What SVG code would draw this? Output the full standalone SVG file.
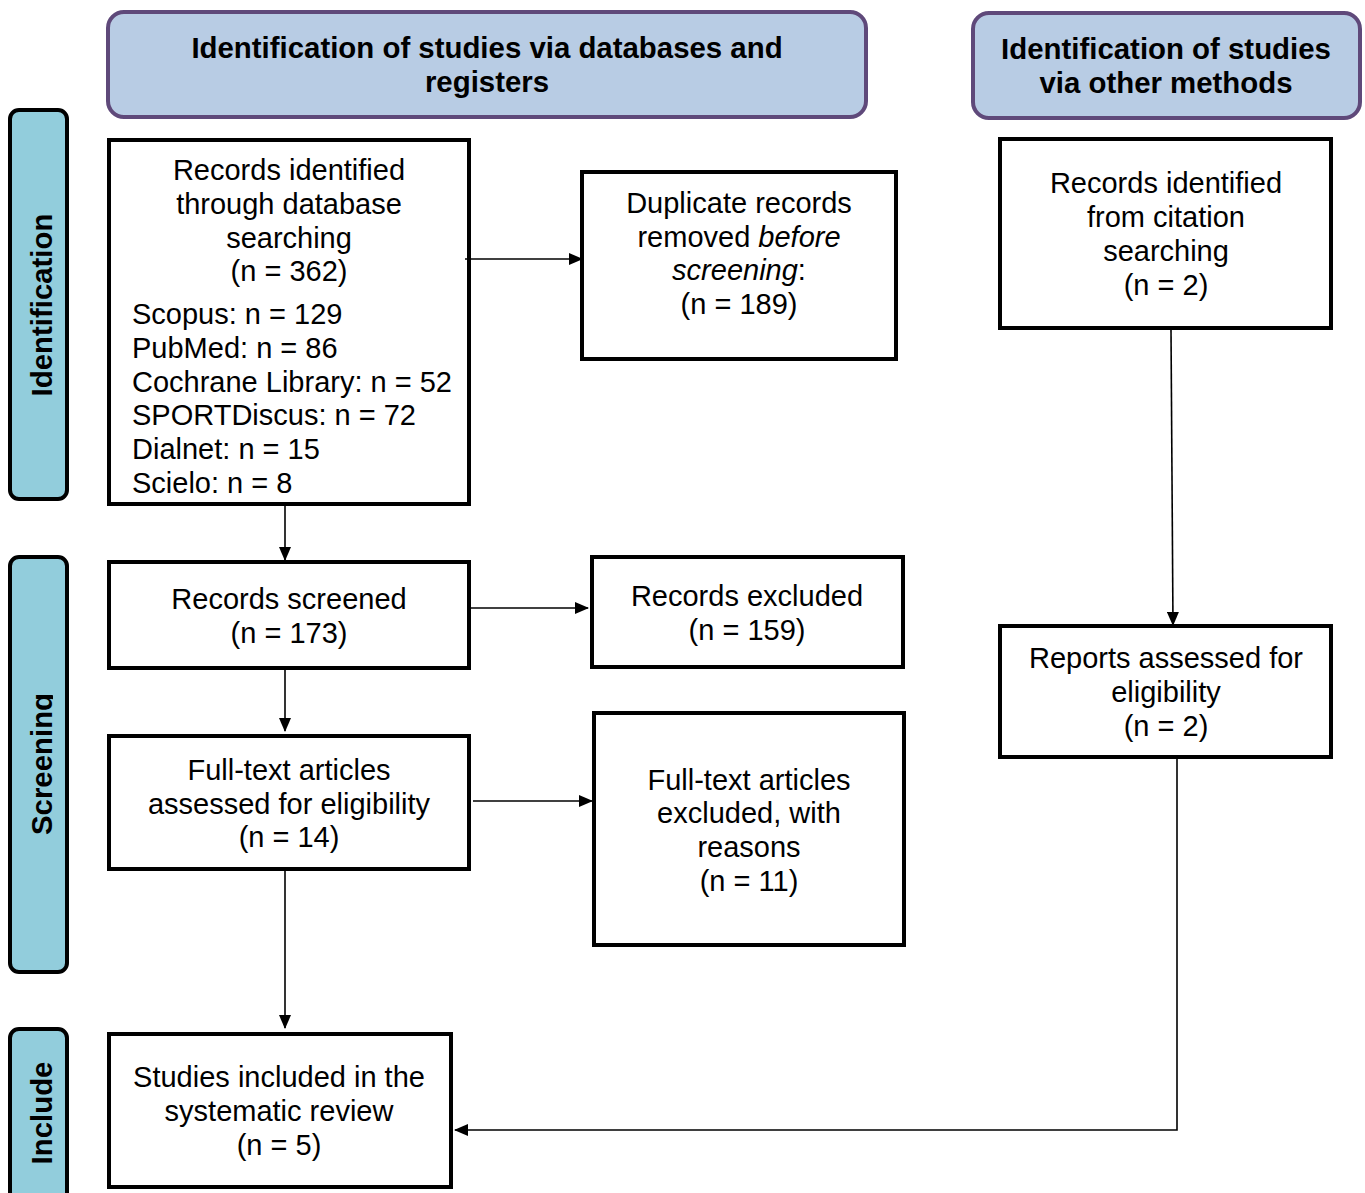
<svg xmlns="http://www.w3.org/2000/svg" width="1365" height="1193" viewBox="0 0 1365 1193">
<style>
.hdr{fill:#b8cce4;stroke:#5f497a;stroke-width:4}
.side{fill:#92cddc;stroke:#000;stroke-width:4}
.box{fill:#fff;stroke:#000;stroke-width:4}
.t{font-family:"Liberation Sans",Arial,sans-serif;font-size:29px;fill:#000}
.c{text-anchor:middle}
.b{font-weight:bold;font-size:29.4px}
.conn{fill:none;stroke:#000;stroke-width:1.6}
</style>
<defs>
<marker id="ah" markerWidth="14" markerHeight="12" refX="13" refY="6" orient="auto" markerUnits="userSpaceOnUse">
<path d="M0,0 L14,6 L0,12 Z" fill="#000"/>
</marker>
<clipPath id="clipScr"><rect x="10" y="556" width="43" height="416"/></clipPath>
</defs>

<g id="hdr-left">
<rect class="hdr" x="108" y="12" width="758" height="105" rx="16"/>
<text class="t b c" x="487" y="58">Identification of studies via databases and</text>
<text class="t b c" x="487" y="92">registers</text>
</g>
<g id="hdr-right">
<rect class="hdr" x="973" y="13" width="387" height="105" rx="16"/>
<text class="t b c" x="1166" y="59">Identification of studies</text>
<text class="t b c" x="1166" y="93">via other methods</text>
</g>

<g id="side-identification">
<rect class="side" x="10" y="110" width="57" height="389" rx="9"/>
<text class="t b c" transform="translate(52,305) rotate(-90)">Identification</text>
</g>
<g id="side-screening">
<rect class="side" x="10" y="557" width="57" height="415" rx="9"/>
<g clip-path="url(#clipScr)">
<text class="t b c" transform="translate(52,764) rotate(-90)">Screening</text>
</g>
</g>
<g id="side-include">
<rect class="side" x="10" y="1029" width="57" height="180" rx="9"/>
<text class="t b c" transform="translate(52,1113) rotate(-90)">Include</text>
</g>

<g id="n-db">
<rect class="box" x="109" y="140" width="360" height="364"/>
<text class="t c" x="289" y="180">Records identified</text>
<text class="t c" x="289" y="214">through database</text>
<text class="t c" x="289" y="248">searching</text>
<text class="t c" x="289" y="281">(n = 362)</text>
<text class="t" x="132" y="324">Scopus: n = 129</text>
<text class="t" x="132" y="358">PubMed: n = 86</text>
<text class="t" x="132" y="392">Cochrane Library: n = 52</text>
<text class="t" x="132" y="425">SPORTDiscus: n = 72</text>
<text class="t" x="132" y="459">Dialnet: n = 15</text>
<text class="t" x="132" y="493">Scielo: n = 8</text>
</g>

<g id="n-dup">
<rect class="box" x="582" y="172" width="314" height="187"/>
<text class="t c" x="739" y="213">Duplicate records</text>
<text class="t c" x="739" y="247">removed <tspan font-style="italic">before</tspan></text>
<text class="t c" x="739" y="280"><tspan font-style="italic">screening</tspan>:</text>
<text class="t c" x="739" y="314">(n = 189)</text>
</g>

<g id="n-cit">
<rect class="box" x="1000" y="139" width="331" height="189"/>
<text class="t c" x="1166" y="193">Records identified</text>
<text class="t c" x="1166" y="227">from citation</text>
<text class="t c" x="1166" y="261">searching</text>
<text class="t c" x="1166" y="295">(n = 2)</text>
</g>

<g id="n-screened">
<rect class="box" x="109" y="562" width="360" height="106"/>
<text class="t c" x="289" y="609">Records screened</text>
<text class="t c" x="289" y="643">(n = 173)</text>
</g>

<g id="n-excl">
<rect class="box" x="592" y="557" width="311" height="110"/>
<text class="t c" x="747" y="606">Records excluded</text>
<text class="t c" x="747" y="640">(n = 159)</text>
</g>

<g id="n-fulltext">
<rect class="box" x="109" y="736" width="360" height="133"/>
<text class="t c" x="289" y="780">Full-text articles</text>
<text class="t c" x="289" y="814">assessed for eligibility</text>
<text class="t c" x="289" y="847">(n = 14)</text>
</g>

<g id="n-ftexcl">
<rect class="box" x="594" y="713" width="310" height="232"/>
<text class="t c" x="749" y="790">Full-text articles</text>
<text class="t c" x="749" y="823">excluded, with</text>
<text class="t c" x="749" y="857">reasons</text>
<text class="t c" x="749" y="891">(n = 11)</text>
</g>

<g id="n-reports">
<rect class="box" x="1000" y="626" width="331" height="131"/>
<text class="t c" x="1166" y="668">Reports assessed for</text>
<text class="t c" x="1166" y="702">eligibility</text>
<text class="t c" x="1166" y="736">(n = 2)</text>
</g>

<g id="n-included">
<rect class="box" x="109" y="1034" width="342" height="153"/>
<text class="t c" x="279" y="1087">Studies included in the</text>
<text class="t c" x="279" y="1121">systematic review</text>
<text class="t c" x="279" y="1155">(n = 5)</text>
</g>

<g id="connectors">
<line class="conn" x1="465" y1="259" x2="582" y2="259" marker-end="url(#ah)"/>
<line class="conn" x1="285" y1="506" x2="285" y2="560" marker-end="url(#ah)"/>
<line class="conn" x1="471" y1="608" x2="588" y2="608" marker-end="url(#ah)"/>
<line class="conn" x1="285" y1="670" x2="285" y2="731" marker-end="url(#ah)"/>
<line class="conn" x1="473" y1="801" x2="592" y2="801" marker-end="url(#ah)"/>
<line class="conn" x1="285" y1="871" x2="285" y2="1028" marker-end="url(#ah)"/>
<line class="conn" x1="1171" y1="330" x2="1173" y2="625" marker-end="url(#ah)"/>
<polyline class="conn" points="1177,759 1177,1130 455,1130" marker-end="url(#ah)"/>
</g>
</svg>
